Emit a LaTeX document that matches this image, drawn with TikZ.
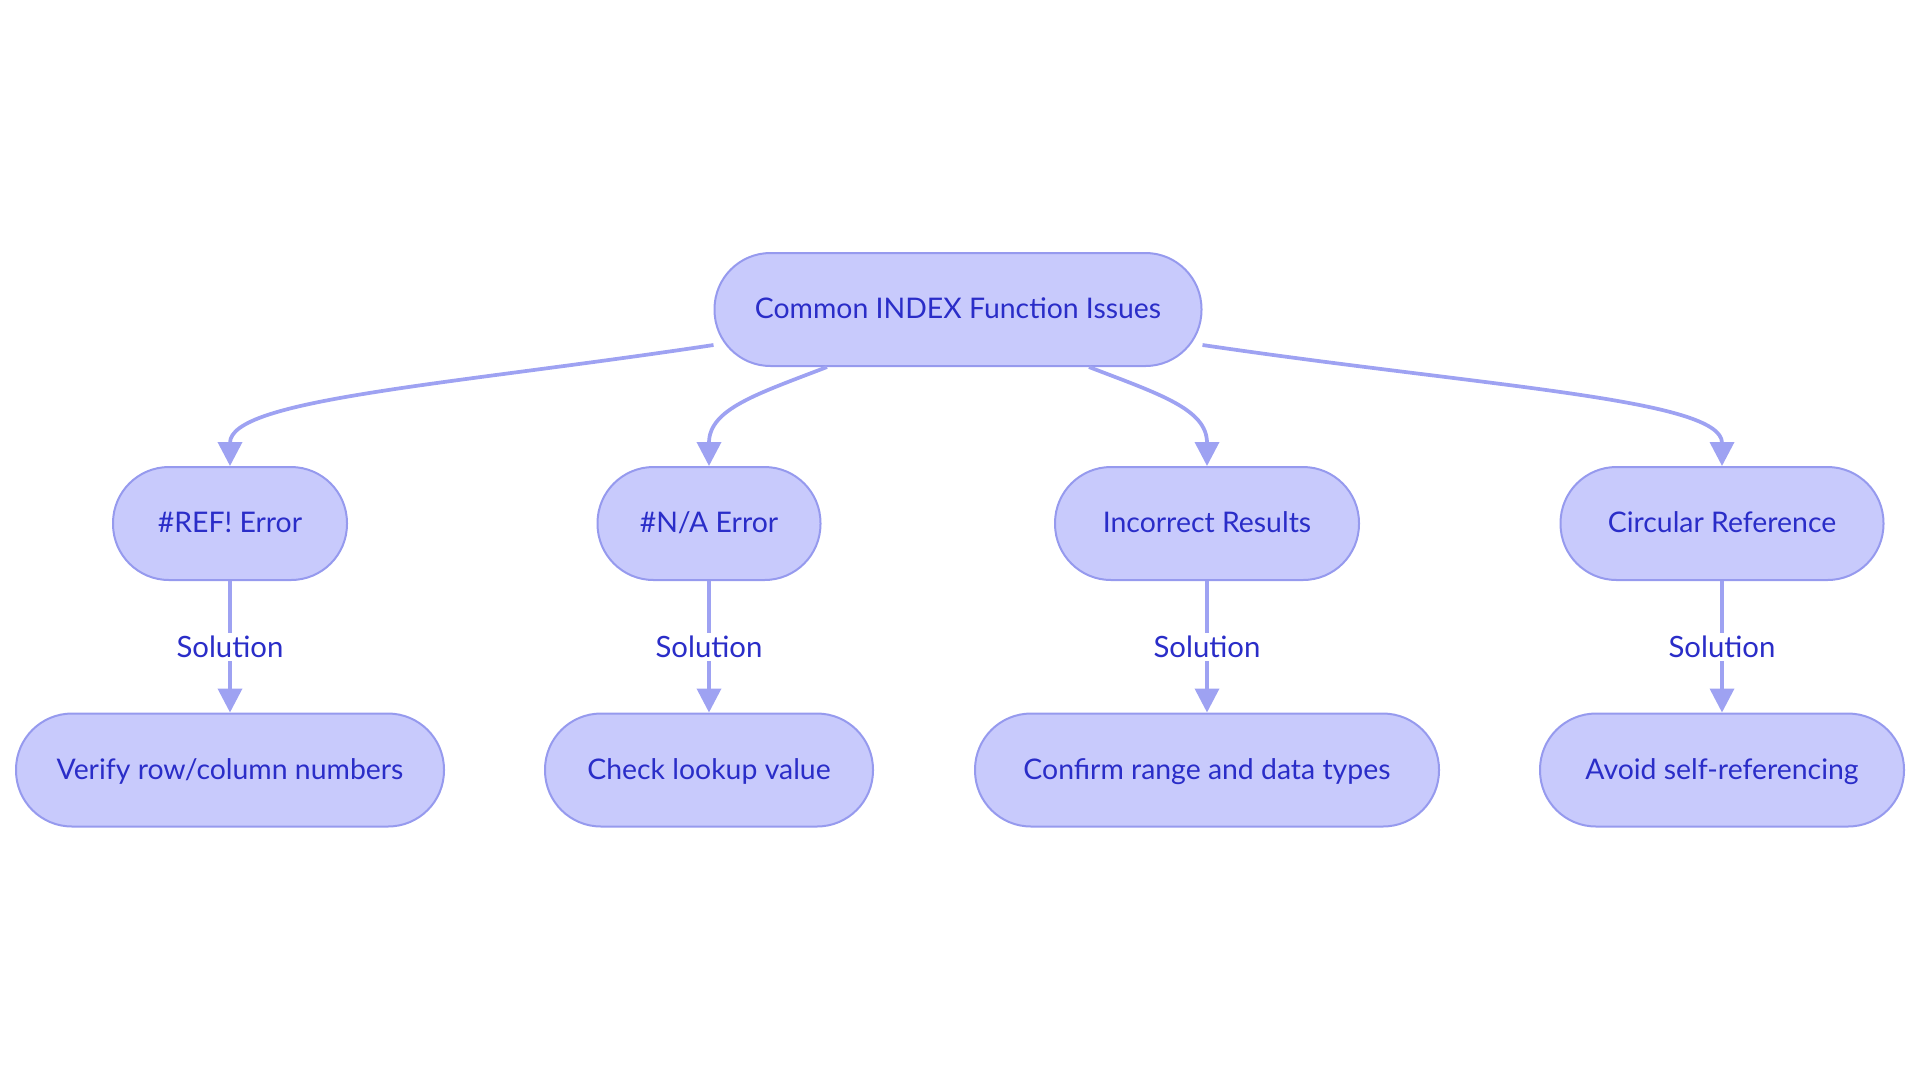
\documentclass[tikz,border=0pt]{standalone}
\usepackage{fontspec}
\setmainfont{Lato}
\usetikzlibrary{arrows.meta,calc}
\definecolor{nodefill}{RGB}{200,202,252}
\definecolor{nodeline}{RGB}{150,154,238}
\definecolor{edgeline}{RGB}{158,162,242}
\definecolor{txt}{RGB}{42,45,200}
\tikzset{
  stadium/.style={draw=nodeline, fill=nodefill, line width=1.5pt, rectangle,
    rounded corners=42pt, minimum height=84.75pt, inner sep=0pt,
    text height=16pt, text depth=2pt,
    text=txt, font=\fontsize{21.3pt}{26pt}\selectfont},
  edge/.style={draw=edgeline, line width=2.8pt,
    -{Triangle[length=18pt, width=18pt]}},
  sol/.style={fill=white, text=txt, inner sep=2.25pt,
    font=\fontsize{22pt}{26pt}\selectfont}
}
\begin{document}
\begin{tikzpicture}[x=0.75pt, y=-0.75pt]
\useasboundingbox (0,0) rectangle (1920,1083);
\node[stadium, minimum width=365.25pt] (top) at (958,309.5) {Common INDEX Function Issues};
\node[stadium, minimum width=175.5pt] (ref) at (230,523.5) {\#REF! Error};
\node[stadium, minimum width=167.25pt] (na) at (709,523.5) {\#N/A Error};
\node[stadium, minimum width=228pt] (inc) at (1207,523.5) {Incorrect Results};
\node[stadium, minimum width=242.25pt] (circ) at (1722,523.5) {Circular Reference};
\node[stadium, minimum width=321pt] (ver) at (230,770) {Verify row/column numbers};
\node[stadium, minimum width=246pt] (chk) at (709,770) {Check lookup value};
\node[stadium, minimum width=348pt] (conf) at (1207,770) {Confirm range and data types};
\node[stadium, minimum width=273pt] (avoid) at (1722,770) {Avoid self-referencing};

\coordinate (s1) at ($(top.west)+(0,35.5)$);
\coordinate (s2) at ($(top.south)+(-131,0)$);
\coordinate (s3) at ($(top.south)+(131,0)$);
\coordinate (s4) at ($(top.east)+(0,35.5)$);

\draw[edge] (s1) .. controls +(-265,40) and +(0,-67) .. (ref.north);
\draw[edge] (s2) .. controls +(-70,27) and +(0,-57) .. (na.north);
\draw[edge] (s3) .. controls +(70,27) and +(0,-57) .. (inc.north);
\draw[edge] (s4) .. controls +(285,42) and +(0,-67) .. (circ.north);

\draw[edge] (ref.south) -- node[sol] {Solution} (ver.north);
\draw[edge] (na.south) -- node[sol] {Solution} (chk.north);
\draw[edge] (inc.south) -- node[sol] {Solution} (conf.north);
\draw[edge] (circ.south) -- node[sol] {Solution} (avoid.north);
\end{tikzpicture}
\end{document}
